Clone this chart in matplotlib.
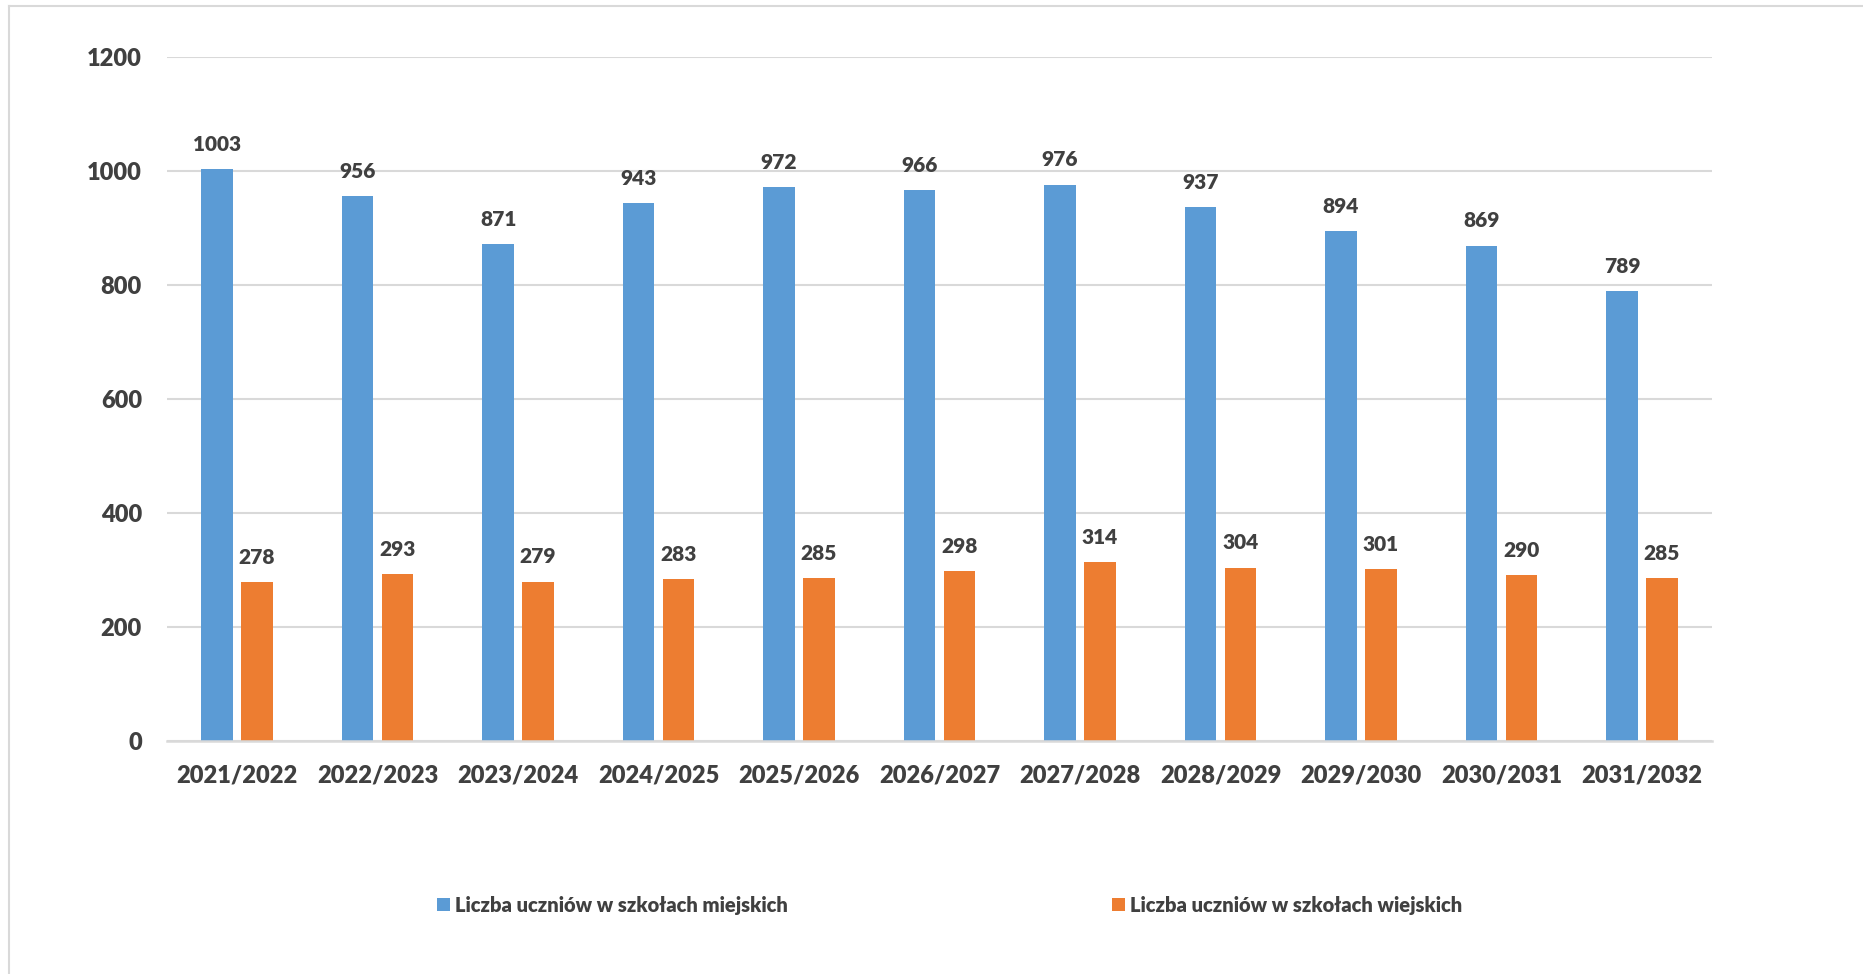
import matplotlib.pyplot as plt
from matplotlib.lines import Line2D
import numpy as np

plt.rcParams['font.family'] = ['Lato', 'DejaVu Sans']
plt.rcParams['font.weight'] = 'heavy'

# =========================
# Data
# =========================
years = ["2021/2022", "2022/2023", "2023/2024", "2024/2025", "2025/2026", "2026/2027",
         "2027/2028", "2028/2029", "2029/2030", "2030/2031", "2031/2032"]
miejskie = [1003, 956, 871, 943, 972, 966, 976, 937, 894, 869, 789]
wiejskie = [278, 293, 279, 283, 285, 298, 314, 304, 301, 290, 285]
labels = ["Liczba uczniów w szkołach miejskich", "Liczba uczniów w szkołach wiejskich"]

blue = "#5B9BD5"
orange = "#ED7D31"
txt = "#404040"
grid = "#D9D9D9"
fw = "heavy"

fig = plt.figure(figsize=(18.63, 9.74), dpi=100)
ax = fig.add_axes([0.0896, 0.2395, 0.8294, 0.702])

x = np.arange(len(years))
w = 0.225
off = 0.142
b1 = ax.bar(x - off, miejskie, w, color=blue, label=labels[0], zorder=3)
b2 = ax.bar(x + off, wiejskie, w, color=orange, label=labels[1], zorder=3)

ax.bar_label(b1, padding=11, fontsize=15, fontweight=fw, color=txt)
ax.bar_label(b2, padding=11, fontsize=15, fontweight=fw, color=txt)

ax.set_xlim(-0.5, len(years) - 0.5)
ax.set_ylim(0, 1200)
ax.set_yticks(range(0, 1201, 200))
ax.set_xticks(x)
ax.set_xticklabels(years, fontweight=fw)
for t in ax.get_yticklabels():
    t.set_fontweight(fw)
ax.yaxis.grid(True, color=grid, linewidth=1.5, zorder=0)
for s in ["top", "right", "left"]:
    ax.spines[s].set_visible(False)
ax.spines["bottom"].set_color(grid)
ax.spines["bottom"].set_linewidth(1.8)
ax.spines["bottom"].set_zorder(4)
ax.tick_params(axis="both", length=0, labelsize=17, colors=txt)
ax.tick_params(axis="y", pad=18)
ax.tick_params(axis="x", pad=17)

fig.legend(loc="center", bbox_to_anchor=(0.5097, 0.0708), ncol=2, frameon=False,
           handlelength=0.65, handleheight=0.65, handletextpad=0.25,
           columnspacing=16.1, labelcolor=txt, prop={"weight": fw, "size": 14.5})

# chart frame (top and left edges)
fig.add_artist(Line2D([0.005, 1.0], [0.9935, 0.9935], color=grid, linewidth=1.5))
fig.add_artist(Line2D([0.005, 0.005], [0.0, 0.9935], color=grid, linewidth=1.5))

plt.savefig("out.png")
plt.close()
